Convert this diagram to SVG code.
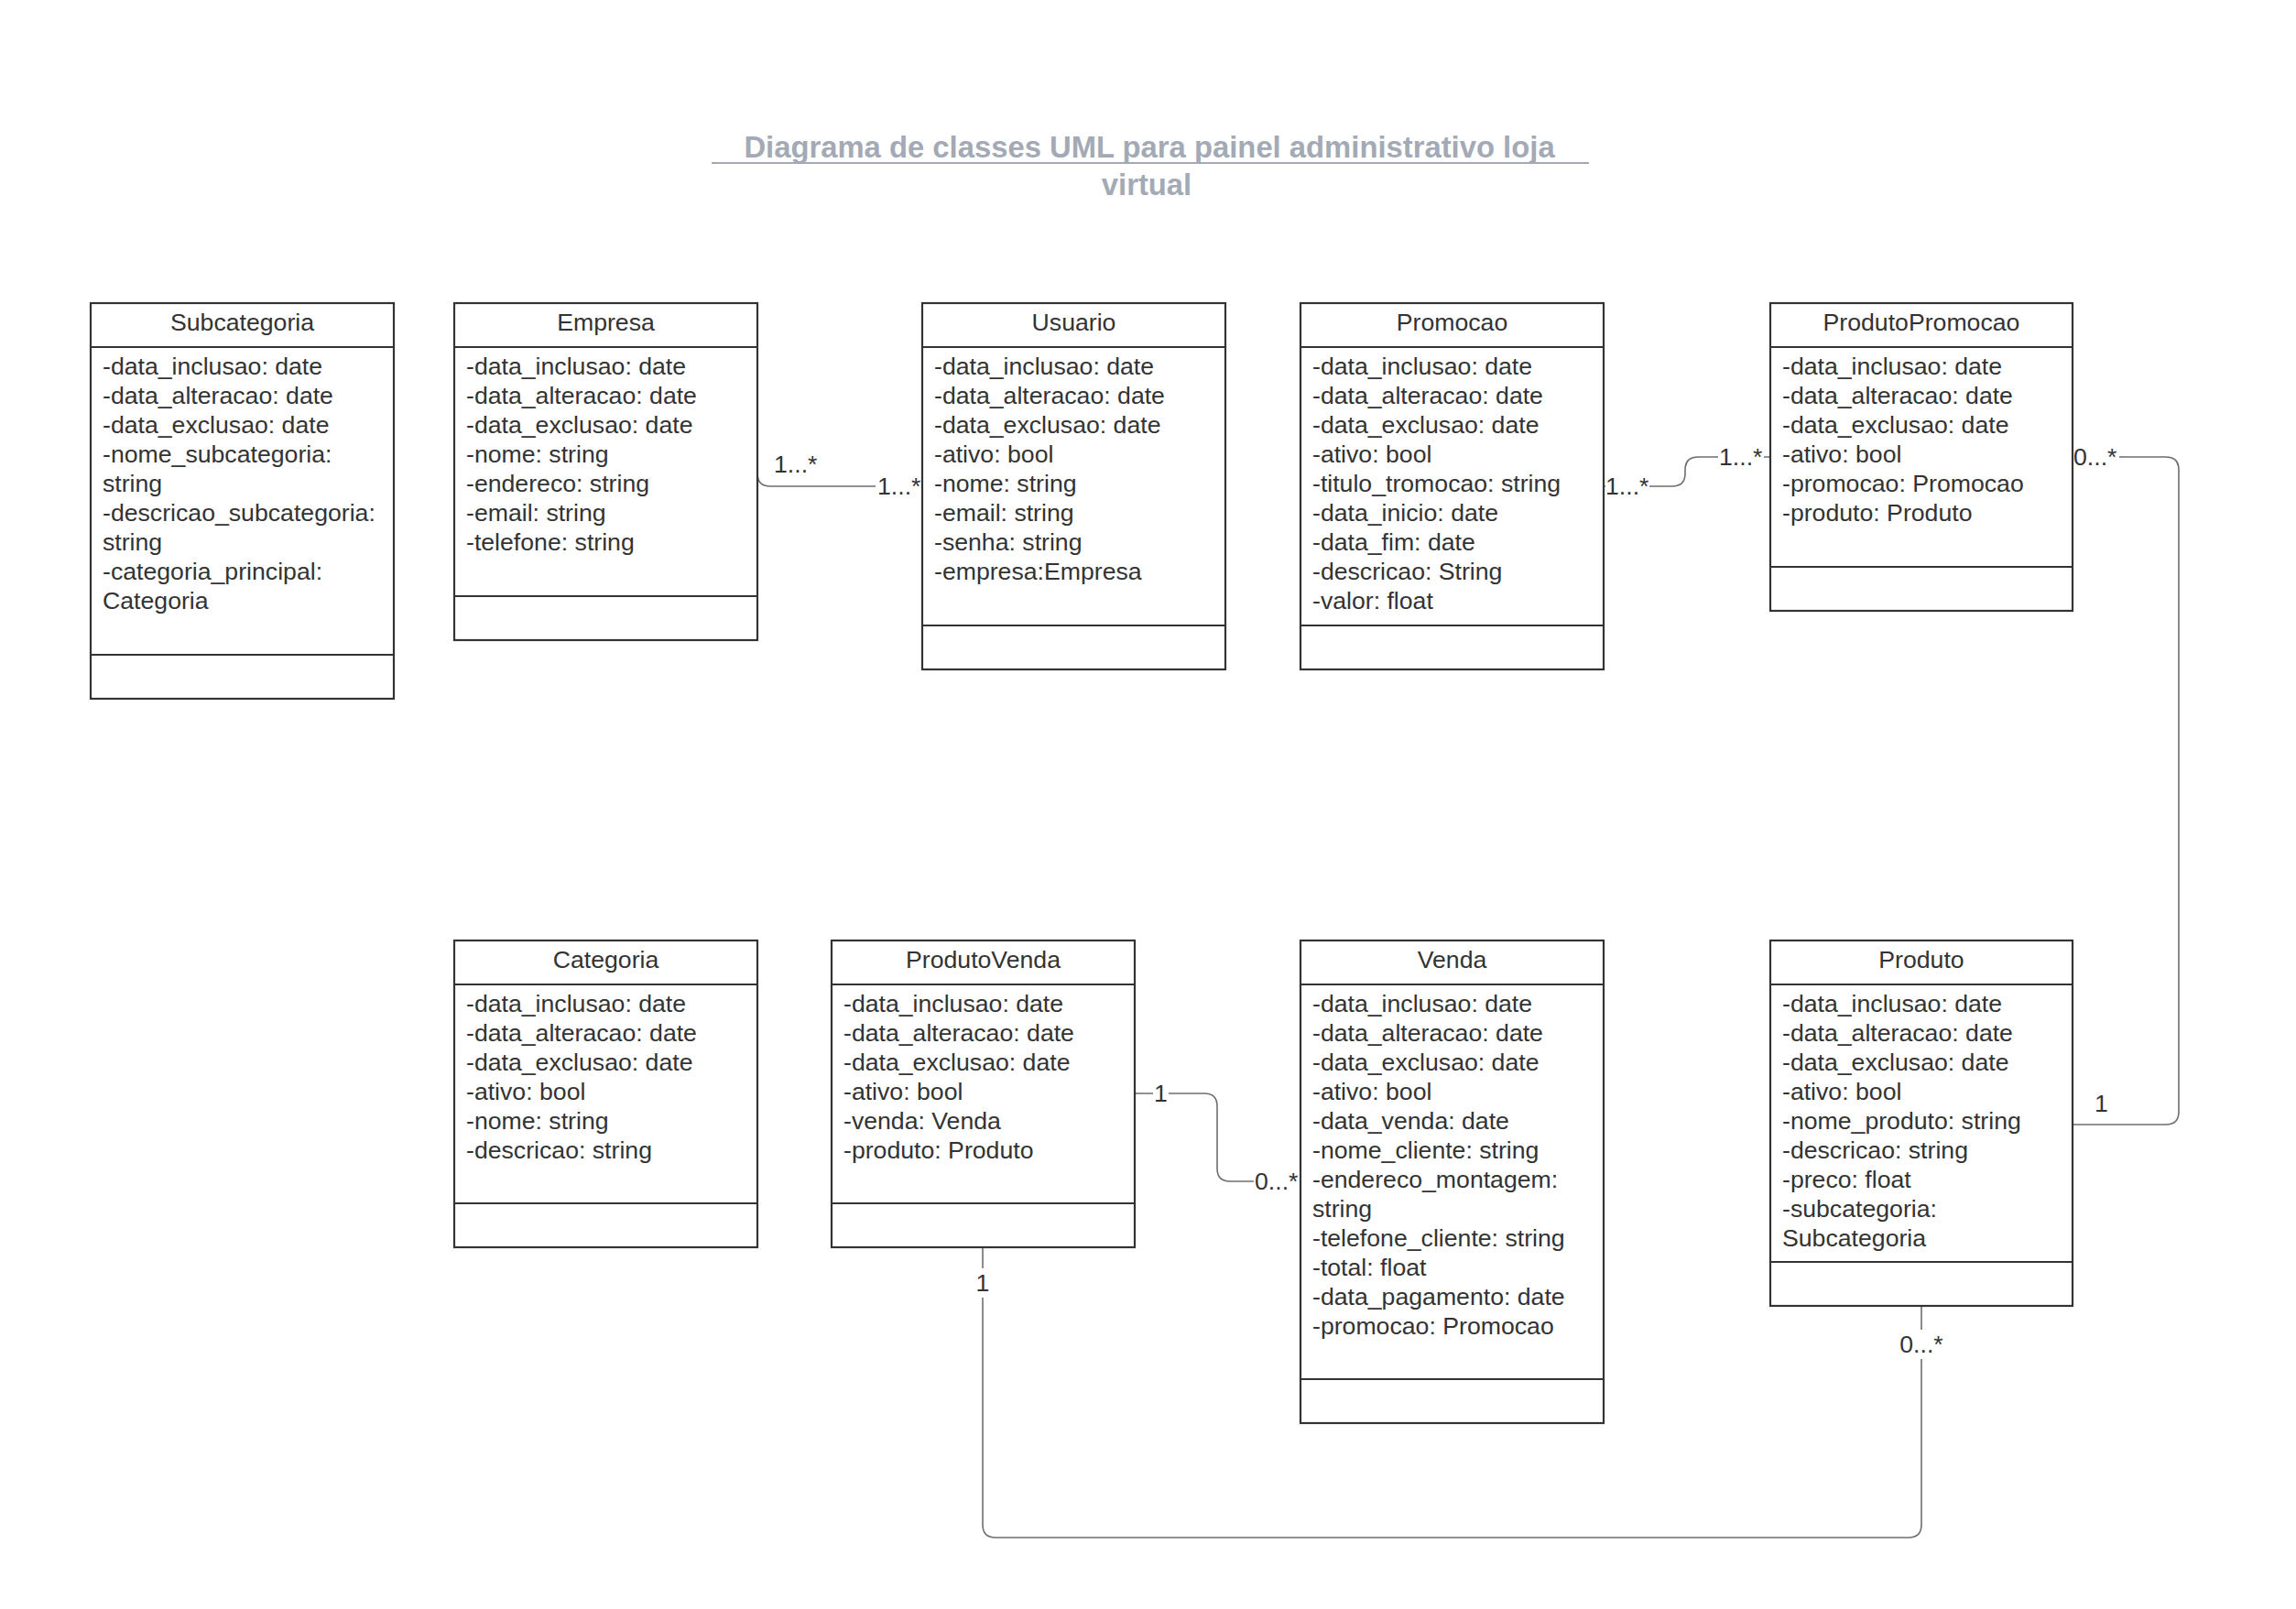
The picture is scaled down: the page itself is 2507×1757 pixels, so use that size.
<svg xmlns="http://www.w3.org/2000/svg" width="2507" height="1757" viewBox="0 0 2507 1757">
<style>
.box{fill:#fff;stroke:#333;stroke-width:2.2}
.sep{stroke:#333;stroke-width:2.2}
.hd{font-family:"Liberation Sans",Arial,sans-serif;font-size:26.67px;fill:#333;text-anchor:middle}
.at{font-family:"Liberation Sans",Arial,sans-serif;font-size:26.67px;fill:#333}
.lbl{font-family:"Liberation Sans",Arial,sans-serif;font-size:26.67px;fill:#333}
.conn{fill:none;stroke:#6e6e6e;stroke-width:1.6}
.bg{fill:#fff}
.title{font-family:"Liberation Sans",Arial,sans-serif;font-size:32.8px;font-weight:bold;fill:#a3aab5;text-anchor:middle}
</style>
<rect width="2507" height="1757" fill="#fff"/>
<g id="title">
<text class="title" x="1255" y="172">Diagrama de classes UML para painel administrativo loja</text>
<line x1="777" y1="178" x2="1735" y2="178" stroke="#a3aab5" stroke-width="2"/>
<text class="title" x="1252" y="213">virtual</text>
</g>
<g id="connectors">
<path class="conn" d="M827,517 Q827,531 841,531 L1007,531"/>
<path class="conn" d="M1752,531 L1826,531 Q1840,531 1840,517 L1840,513 Q1840,499 1854,499 L1933,499"/>
<path class="conn" d="M2263,499 L2365,499 Q2379,499 2379,513 L2379,1214 Q2379,1228 2365,1228 L2263,1228"/>
<path class="conn" d="M1239,1194 L1315,1194 Q1329,1194 1329,1208 L1329,1276 Q1329,1290 1343,1290 L1420,1290"/>
<path class="conn" d="M1073,1362 L1073,1665 Q1073,1679 1087,1679 L2084,1679 Q2098,1679 2098,1665 L2098,1426"/>
<text class="lbl" x="845" y="516">1...*</text>
<rect class="bg" x="956" y="516" width="50" height="30"/>
<text class="lbl" x="958" y="540">1...*</text>
<rect class="bg" x="1753" y="516" width="48" height="30"/>
<text class="lbl" x="1753" y="540">1...*</text>
<rect class="bg" x="1876" y="484" width="50" height="30"/>
<text class="lbl" x="1877" y="508">1...*</text>
<rect class="bg" x="2264" y="484" width="50" height="30"/>
<text class="lbl" x="2264" y="508">0...*</text>
<text class="lbl" x="2287" y="1214">1</text>
<rect class="bg" x="1259" y="1179" width="17" height="30"/>
<text class="lbl" x="1260" y="1203">1</text>
<rect class="bg" x="1369" y="1275" width="50" height="30"/>
<text class="lbl" x="1370" y="1299">0...*</text>
<rect class="bg" x="1063" y="1385" width="20" height="32"/>
<text class="lbl" x="1073" y="1410" text-anchor="middle">1</text>
<rect class="bg" x="2072" y="1452" width="52" height="32"/>
<text class="lbl" x="2098" y="1477" text-anchor="middle">0...*</text>
</g>
<g id="Subcategoria">
<rect class="box" x="99" y="331" width="331" height="432"/>
<line class="sep" x1="99" y1="379" x2="430" y2="379"/>
<line class="sep" x1="99" y1="715" x2="430" y2="715"/>
<text class="hd" x="264.5" y="361">Subcategoria</text>
<text class="at" x="112" y="409">-data_inclusao: date</text>
<text class="at" x="112" y="441">-data_alteracao: date</text>
<text class="at" x="112" y="473">-data_exclusao: date</text>
<text class="at" x="112" y="505">-nome_subcategoria:</text>
<text class="at" x="112" y="537">string</text>
<text class="at" x="112" y="569">-descricao_subcategoria:</text>
<text class="at" x="112" y="601">string</text>
<text class="at" x="112" y="633">-categoria_principal:</text>
<text class="at" x="112" y="665">Categoria</text>
</g>
<g id="Empresa">
<rect class="box" x="496" y="331" width="331" height="368"/>
<line class="sep" x1="496" y1="379" x2="827" y2="379"/>
<line class="sep" x1="496" y1="651" x2="827" y2="651"/>
<text class="hd" x="661.5" y="361">Empresa</text>
<text class="at" x="509" y="409">-data_inclusao: date</text>
<text class="at" x="509" y="441">-data_alteracao: date</text>
<text class="at" x="509" y="473">-data_exclusao: date</text>
<text class="at" x="509" y="505">-nome: string</text>
<text class="at" x="509" y="537">-endereco: string</text>
<text class="at" x="509" y="569">-email: string</text>
<text class="at" x="509" y="601">-telefone: string</text>
</g>
<g id="Usuario">
<rect class="box" x="1007" y="331" width="331" height="400"/>
<line class="sep" x1="1007" y1="379" x2="1338" y2="379"/>
<line class="sep" x1="1007" y1="683" x2="1338" y2="683"/>
<text class="hd" x="1172.5" y="361">Usuario</text>
<text class="at" x="1020" y="409">-data_inclusao: date</text>
<text class="at" x="1020" y="441">-data_alteracao: date</text>
<text class="at" x="1020" y="473">-data_exclusao: date</text>
<text class="at" x="1020" y="505">-ativo: bool</text>
<text class="at" x="1020" y="537">-nome: string</text>
<text class="at" x="1020" y="569">-email: string</text>
<text class="at" x="1020" y="601">-senha: string</text>
<text class="at" x="1020" y="633">-empresa:Empresa</text>
</g>
<g id="Promocao">
<rect class="box" x="1420" y="331" width="331" height="400"/>
<line class="sep" x1="1420" y1="379" x2="1751" y2="379"/>
<line class="sep" x1="1420" y1="683" x2="1751" y2="683"/>
<text class="hd" x="1585.5" y="361">Promocao</text>
<text class="at" x="1433" y="409">-data_inclusao: date</text>
<text class="at" x="1433" y="441">-data_alteracao: date</text>
<text class="at" x="1433" y="473">-data_exclusao: date</text>
<text class="at" x="1433" y="505">-ativo: bool</text>
<text class="at" x="1433" y="537">-titulo_tromocao: string</text>
<text class="at" x="1433" y="569">-data_inicio: date</text>
<text class="at" x="1433" y="601">-data_fim: date</text>
<text class="at" x="1433" y="633">-descricao: String</text>
<text class="at" x="1433" y="665">-valor: float</text>
</g>
<g id="ProdutoPromocao">
<rect class="box" x="1933" y="331" width="330" height="336"/>
<line class="sep" x1="1933" y1="379" x2="2263" y2="379"/>
<line class="sep" x1="1933" y1="619" x2="2263" y2="619"/>
<text class="hd" x="2098" y="361">ProdutoPromocao</text>
<text class="at" x="1946" y="409">-data_inclusao: date</text>
<text class="at" x="1946" y="441">-data_alteracao: date</text>
<text class="at" x="1946" y="473">-data_exclusao: date</text>
<text class="at" x="1946" y="505">-ativo: bool</text>
<text class="at" x="1946" y="537">-promocao: Promocao</text>
<text class="at" x="1946" y="569">-produto: Produto</text>
</g>
<g id="Categoria">
<rect class="box" x="496" y="1027" width="331" height="335"/>
<line class="sep" x1="496" y1="1075" x2="827" y2="1075"/>
<line class="sep" x1="496" y1="1314" x2="827" y2="1314"/>
<text class="hd" x="661.5" y="1057">Categoria</text>
<text class="at" x="509" y="1105">-data_inclusao: date</text>
<text class="at" x="509" y="1137">-data_alteracao: date</text>
<text class="at" x="509" y="1169">-data_exclusao: date</text>
<text class="at" x="509" y="1201">-ativo: bool</text>
<text class="at" x="509" y="1233">-nome: string</text>
<text class="at" x="509" y="1265">-descricao: string</text>
</g>
<g id="ProdutoVenda">
<rect class="box" x="908" y="1027" width="331" height="335"/>
<line class="sep" x1="908" y1="1075" x2="1239" y2="1075"/>
<line class="sep" x1="908" y1="1314" x2="1239" y2="1314"/>
<text class="hd" x="1073.5" y="1057">ProdutoVenda</text>
<text class="at" x="921" y="1105">-data_inclusao: date</text>
<text class="at" x="921" y="1137">-data_alteracao: date</text>
<text class="at" x="921" y="1169">-data_exclusao: date</text>
<text class="at" x="921" y="1201">-ativo: bool</text>
<text class="at" x="921" y="1233">-venda: Venda</text>
<text class="at" x="921" y="1265">-produto: Produto</text>
</g>
<g id="Venda">
<rect class="box" x="1420" y="1027" width="331" height="527"/>
<line class="sep" x1="1420" y1="1075" x2="1751" y2="1075"/>
<line class="sep" x1="1420" y1="1506" x2="1751" y2="1506"/>
<text class="hd" x="1585.5" y="1057">Venda</text>
<text class="at" x="1433" y="1105">-data_inclusao: date</text>
<text class="at" x="1433" y="1137">-data_alteracao: date</text>
<text class="at" x="1433" y="1169">-data_exclusao: date</text>
<text class="at" x="1433" y="1201">-ativo: bool</text>
<text class="at" x="1433" y="1233">-data_venda: date</text>
<text class="at" x="1433" y="1265">-nome_cliente: string</text>
<text class="at" x="1433" y="1297">-endereco_montagem:</text>
<text class="at" x="1433" y="1329">string</text>
<text class="at" x="1433" y="1361">-telefone_cliente: string</text>
<text class="at" x="1433" y="1393">-total: float</text>
<text class="at" x="1433" y="1425">-data_pagamento: date</text>
<text class="at" x="1433" y="1457">-promocao: Promocao</text>
</g>
<g id="Produto">
<rect class="box" x="1933" y="1027" width="330" height="399"/>
<line class="sep" x1="1933" y1="1075" x2="2263" y2="1075"/>
<line class="sep" x1="1933" y1="1378" x2="2263" y2="1378"/>
<text class="hd" x="2098" y="1057">Produto</text>
<text class="at" x="1946" y="1105">-data_inclusao: date</text>
<text class="at" x="1946" y="1137">-data_alteracao: date</text>
<text class="at" x="1946" y="1169">-data_exclusao: date</text>
<text class="at" x="1946" y="1201">-ativo: bool</text>
<text class="at" x="1946" y="1233">-nome_produto: string</text>
<text class="at" x="1946" y="1265">-descricao: string</text>
<text class="at" x="1946" y="1297">-preco: float</text>
<text class="at" x="1946" y="1329">-subcategoria:</text>
<text class="at" x="1946" y="1361">Subcategoria</text>
</g>
</svg>
